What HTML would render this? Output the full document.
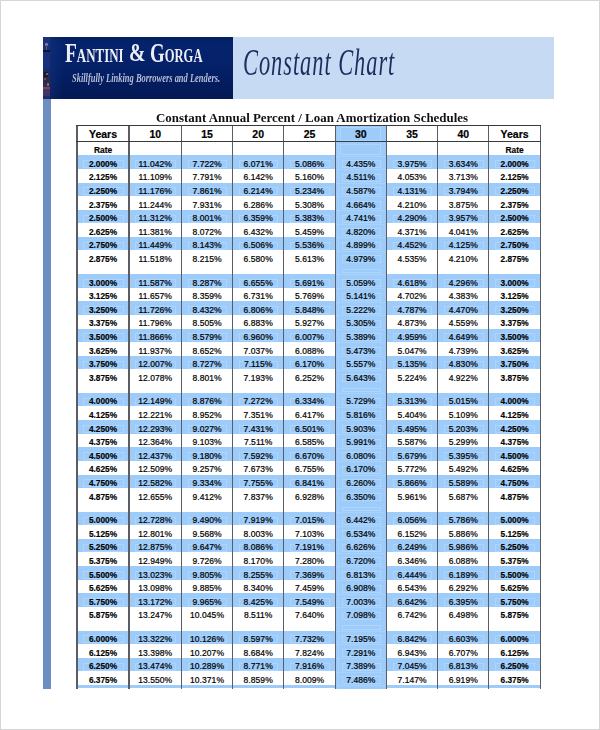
<!DOCTYPE html>
<html><head><meta charset="utf-8"><style>
html,body{margin:0;padding:0}
body{width:600px;height:730px;position:relative;overflow:hidden;background:#fff;font-family:"Liberation Sans",sans-serif}
div{position:absolute;box-sizing:border-box}
.frame{left:0;top:0;width:600px;height:730px;border:1px solid #d6d6d6}
.hd1{left:43px;top:37px;width:190px;height:62px;background:linear-gradient(180deg,#03205e 0%,#05236c 10%,#04216a 40%,#031d60 70%,#041853 100%)}
.hd2{left:232.5px;top:37px;width:321.5px;height:62px;background:#c6daf3}
.strip{left:43px;top:99px;width:7.8px;height:589.7px;background:#6b8fc1}
.pic{left:43px;top:37px;width:6.5px;height:62px;background:linear-gradient(180deg,#18337c 0%,#17307a 50%,#182a66 56%,#2a2a50 72%,#2e2c5a 80%,#2a2c62 90%,#1e2a6a 100%)}
.hd1b{left:49.5px;top:37px;width:14px;height:62px;background:linear-gradient(90deg,rgba(40,70,150,.25),rgba(40,70,150,0))}
.logo{top:39.5px;transform-origin:0 0;color:#eeeef5;font-weight:bold;font-family:"Liberation Serif",serif;white-space:nowrap;line-height:1}
.tag{left:72px;top:73.3px;transform:scaleX(0.735);transform-origin:0 0;color:#b6bcd6;font-family:"Liberation Serif",serif;font-style:italic;font-weight:bold;white-space:nowrap;line-height:1}
.cc{left:243.3px;top:44px;transform:scaleX(0.605);letter-spacing:1.6px;transform-origin:0 0;color:#1e2b5e;font-family:"Liberation Serif",serif;font-style:italic;white-space:nowrap;line-height:1}
.title{left:155.5px;top:110.6px;transform:scaleX(0.965);transform-origin:0 0;font-family:"Liberation Serif",serif;font-weight:bold;font-size:13.4px;white-space:nowrap;line-height:1;color:#111}
.b{background:#9dcbfa}
.in{border:1px solid #b4d8fb;opacity:.75}
.in2{background:#b4d8fb;opacity:.5}
.vl{background:#5a5e64}
.hl{background:#3a3a3a}
.t{text-align:center;white-space:nowrap;color:#000;line-height:1}
.hd{font-weight:bold;font-size:10.5px;padding-top:4px;-webkit-text-stroke:0.2px #000}
.rt{font-weight:bold;font-size:8.4px;padding-top:4.9px;-webkit-text-stroke:0.15px #000}
.rb{font-weight:bold;font-size:8.3px;padding-top:4.5px;-webkit-text-stroke:0.15px #000}
.rd{font-size:8.5px;letter-spacing:0.06px;padding-top:4.5px;-webkit-text-stroke:0.2px #000}
.clip{left:0;top:0;width:600px;height:688.5px;overflow:hidden}
</style></head><body>
<div class="hd1"></div>
<div class="pic"></div>
<div style="left:43px;top:37px;width:6.5px;height:62px;filter:blur(0.6px);overflow:visible">
<div style="left:2px;top:6px;width:2.5px;height:2.5px;border-radius:50%;background:#b07080"></div>
<div style="left:2.8px;top:8px;width:1px;height:5px;background:#4a5a90"></div>
<div style="left:0;top:12.5px;width:6.5px;height:2px;background:#101528"></div>
<div style="left:0.5px;top:35px;width:4px;height:5px;background:#1a1530"></div>
<div style="left:3px;top:36px;width:2px;height:2px;background:#906040"></div>
<div style="left:1px;top:41px;width:2px;height:2px;background:#705040"></div>
<div style="left:3.5px;top:46px;width:2.5px;height:2.5px;border-radius:50%;background:#b07830"></div>
<div style="left:0;top:50px;width:6.5px;height:9px;background:#4a3a6a;opacity:.7"></div>
<div style="left:0;top:50px;width:6.5px;height:1.5px;background:#8a4a60;opacity:.8"></div>
</div>
<div class="hd1b"></div>
<div class="hd2"></div>
<div class="strip"></div>
<div class="logo" style="left:65.3px;transform:scaleX(0.719)"><span style="font-size:27px">F</span><span style="font-size:18px">ANTINI</span></div>
<div class="logo" style="left:129px;transform:scaleX(0.76)"><span style="font-size:26px">&amp;</span></div>
<div class="logo" style="left:149.5px;transform:scaleX(0.70)"><span style="font-size:27px">G</span><span style="font-size:18px">ORGA</span></div>
<div class="tag" style="font-size:11.5px">Skillfully Linking Borrowers and Lenders.</div>
<div class="cc" style="font-size:37px">Constant Chart</div>
<div class="title">Constant Annual Percent / Loan Amortization Schedules</div>
<div class="clip">
<div class="b" style="left:335.3px;top:125px;width:51.099999999999966px;height:563.5px"></div>
<div class="b" style="left:77px;top:155.30px;width:463.4px;height:13.60px"></div>
<div class="b" style="left:77px;top:182.50px;width:463.4px;height:13.60px"></div>
<div class="b" style="left:77px;top:209.70px;width:463.4px;height:13.60px"></div>
<div class="b" style="left:77px;top:236.90px;width:463.4px;height:13.60px"></div>
<div class="b" style="left:77px;top:274.10px;width:463.4px;height:13.60px"></div>
<div class="b" style="left:77px;top:301.30px;width:463.4px;height:13.60px"></div>
<div class="b" style="left:77px;top:328.50px;width:463.4px;height:13.60px"></div>
<div class="b" style="left:77px;top:355.70px;width:463.4px;height:13.60px"></div>
<div class="b" style="left:77px;top:392.90px;width:463.4px;height:13.60px"></div>
<div class="b" style="left:77px;top:420.10px;width:463.4px;height:13.60px"></div>
<div class="b" style="left:77px;top:447.30px;width:463.4px;height:13.60px"></div>
<div class="b" style="left:77px;top:474.50px;width:463.4px;height:13.60px"></div>
<div class="b" style="left:77px;top:511.70px;width:463.4px;height:13.60px"></div>
<div class="b" style="left:77px;top:538.90px;width:463.4px;height:13.60px"></div>
<div class="b" style="left:77px;top:566.10px;width:463.4px;height:13.60px"></div>
<div class="b" style="left:77px;top:593.30px;width:463.4px;height:13.60px"></div>
<div class="b" style="left:77px;top:630.50px;width:463.4px;height:13.60px"></div>
<div class="b" style="left:77px;top:657.70px;width:463.4px;height:13.60px"></div>
<div class="b" style="left:77px;top:684.90px;width:463.4px;height:3.60px"></div>
<div class="in" style="left:340.30px;top:127.20px;width:40.60px;height:13.50px"></div>
<div class="in" style="left:340.30px;top:144.00px;width:40.60px;height:11.30px"></div>
<div class="in" style="left:83.30px;top:160.10px;width:40.40px;height:8.00px"></div>
<div class="in" style="left:135.30px;top:160.10px;width:40.90px;height:8.00px"></div>
<div class="in" style="left:187.80px;top:160.10px;width:39.50px;height:8.00px"></div>
<div class="in" style="left:238.90px;top:160.10px;width:39.60px;height:8.00px"></div>
<div class="in" style="left:290.10px;top:160.10px;width:39.90px;height:8.00px"></div>
<div class="in" style="left:341.60px;top:160.10px;width:39.50px;height:8.00px"></div>
<div class="in" style="left:392.70px;top:160.10px;width:39.70px;height:8.00px"></div>
<div class="in" style="left:444.00px;top:160.10px;width:39.50px;height:8.00px"></div>
<div class="in" style="left:495.10px;top:160.10px;width:40.00px;height:8.00px"></div>
<div class="in" style="left:341.60px;top:173.70px;width:39.50px;height:8.00px"></div>
<div class="in" style="left:83.30px;top:187.30px;width:40.40px;height:8.00px"></div>
<div class="in" style="left:135.30px;top:187.30px;width:40.90px;height:8.00px"></div>
<div class="in" style="left:187.80px;top:187.30px;width:39.50px;height:8.00px"></div>
<div class="in" style="left:238.90px;top:187.30px;width:39.60px;height:8.00px"></div>
<div class="in" style="left:290.10px;top:187.30px;width:39.90px;height:8.00px"></div>
<div class="in" style="left:341.60px;top:187.30px;width:39.50px;height:8.00px"></div>
<div class="in" style="left:392.70px;top:187.30px;width:39.70px;height:8.00px"></div>
<div class="in" style="left:444.00px;top:187.30px;width:39.50px;height:8.00px"></div>
<div class="in" style="left:495.10px;top:187.30px;width:40.00px;height:8.00px"></div>
<div class="in" style="left:341.60px;top:200.90px;width:39.50px;height:8.00px"></div>
<div class="in" style="left:83.30px;top:214.50px;width:40.40px;height:8.00px"></div>
<div class="in" style="left:135.30px;top:214.50px;width:40.90px;height:8.00px"></div>
<div class="in" style="left:187.80px;top:214.50px;width:39.50px;height:8.00px"></div>
<div class="in" style="left:238.90px;top:214.50px;width:39.60px;height:8.00px"></div>
<div class="in" style="left:290.10px;top:214.50px;width:39.90px;height:8.00px"></div>
<div class="in" style="left:341.60px;top:214.50px;width:39.50px;height:8.00px"></div>
<div class="in" style="left:392.70px;top:214.50px;width:39.70px;height:8.00px"></div>
<div class="in" style="left:444.00px;top:214.50px;width:39.50px;height:8.00px"></div>
<div class="in" style="left:495.10px;top:214.50px;width:40.00px;height:8.00px"></div>
<div class="in" style="left:341.60px;top:228.10px;width:39.50px;height:8.00px"></div>
<div class="in" style="left:83.30px;top:241.70px;width:40.40px;height:8.00px"></div>
<div class="in" style="left:135.30px;top:241.70px;width:40.90px;height:8.00px"></div>
<div class="in" style="left:187.80px;top:241.70px;width:39.50px;height:8.00px"></div>
<div class="in" style="left:238.90px;top:241.70px;width:39.60px;height:8.00px"></div>
<div class="in" style="left:290.10px;top:241.70px;width:39.90px;height:8.00px"></div>
<div class="in" style="left:341.60px;top:241.70px;width:39.50px;height:8.00px"></div>
<div class="in" style="left:392.70px;top:241.70px;width:39.70px;height:8.00px"></div>
<div class="in" style="left:444.00px;top:241.70px;width:39.50px;height:8.00px"></div>
<div class="in" style="left:495.10px;top:241.70px;width:40.00px;height:8.00px"></div>
<div class="in" style="left:341.60px;top:255.30px;width:39.50px;height:8.00px"></div>
<div class="in" style="left:83.30px;top:278.90px;width:40.40px;height:8.00px"></div>
<div class="in" style="left:135.30px;top:278.90px;width:40.90px;height:8.00px"></div>
<div class="in" style="left:187.80px;top:278.90px;width:39.50px;height:8.00px"></div>
<div class="in" style="left:238.90px;top:278.90px;width:39.60px;height:8.00px"></div>
<div class="in" style="left:290.10px;top:278.90px;width:39.90px;height:8.00px"></div>
<div class="in" style="left:341.60px;top:278.90px;width:39.50px;height:8.00px"></div>
<div class="in" style="left:392.70px;top:278.90px;width:39.70px;height:8.00px"></div>
<div class="in" style="left:444.00px;top:278.90px;width:39.50px;height:8.00px"></div>
<div class="in" style="left:495.10px;top:278.90px;width:40.00px;height:8.00px"></div>
<div class="in" style="left:341.60px;top:268.90px;width:39.50px;height:4.40px"></div>
<div class="in" style="left:341.60px;top:292.50px;width:39.50px;height:8.00px"></div>
<div class="in" style="left:83.30px;top:306.10px;width:40.40px;height:8.00px"></div>
<div class="in" style="left:135.30px;top:306.10px;width:40.90px;height:8.00px"></div>
<div class="in" style="left:187.80px;top:306.10px;width:39.50px;height:8.00px"></div>
<div class="in" style="left:238.90px;top:306.10px;width:39.60px;height:8.00px"></div>
<div class="in" style="left:290.10px;top:306.10px;width:39.90px;height:8.00px"></div>
<div class="in" style="left:341.60px;top:306.10px;width:39.50px;height:8.00px"></div>
<div class="in" style="left:392.70px;top:306.10px;width:39.70px;height:8.00px"></div>
<div class="in" style="left:444.00px;top:306.10px;width:39.50px;height:8.00px"></div>
<div class="in" style="left:495.10px;top:306.10px;width:40.00px;height:8.00px"></div>
<div class="in" style="left:341.60px;top:319.70px;width:39.50px;height:8.00px"></div>
<div class="in" style="left:83.30px;top:333.30px;width:40.40px;height:8.00px"></div>
<div class="in" style="left:135.30px;top:333.30px;width:40.90px;height:8.00px"></div>
<div class="in" style="left:187.80px;top:333.30px;width:39.50px;height:8.00px"></div>
<div class="in" style="left:238.90px;top:333.30px;width:39.60px;height:8.00px"></div>
<div class="in" style="left:290.10px;top:333.30px;width:39.90px;height:8.00px"></div>
<div class="in" style="left:341.60px;top:333.30px;width:39.50px;height:8.00px"></div>
<div class="in" style="left:392.70px;top:333.30px;width:39.70px;height:8.00px"></div>
<div class="in" style="left:444.00px;top:333.30px;width:39.50px;height:8.00px"></div>
<div class="in" style="left:495.10px;top:333.30px;width:40.00px;height:8.00px"></div>
<div class="in" style="left:341.60px;top:346.90px;width:39.50px;height:8.00px"></div>
<div class="in" style="left:83.30px;top:360.50px;width:40.40px;height:8.00px"></div>
<div class="in" style="left:135.30px;top:360.50px;width:40.90px;height:8.00px"></div>
<div class="in" style="left:187.80px;top:360.50px;width:39.50px;height:8.00px"></div>
<div class="in" style="left:238.90px;top:360.50px;width:39.60px;height:8.00px"></div>
<div class="in" style="left:290.10px;top:360.50px;width:39.90px;height:8.00px"></div>
<div class="in" style="left:341.60px;top:360.50px;width:39.50px;height:8.00px"></div>
<div class="in" style="left:392.70px;top:360.50px;width:39.70px;height:8.00px"></div>
<div class="in" style="left:444.00px;top:360.50px;width:39.50px;height:8.00px"></div>
<div class="in" style="left:495.10px;top:360.50px;width:40.00px;height:8.00px"></div>
<div class="in" style="left:341.60px;top:374.10px;width:39.50px;height:8.00px"></div>
<div class="in" style="left:83.30px;top:397.70px;width:40.40px;height:8.00px"></div>
<div class="in" style="left:135.30px;top:397.70px;width:40.90px;height:8.00px"></div>
<div class="in" style="left:187.80px;top:397.70px;width:39.50px;height:8.00px"></div>
<div class="in" style="left:238.90px;top:397.70px;width:39.60px;height:8.00px"></div>
<div class="in" style="left:290.10px;top:397.70px;width:39.90px;height:8.00px"></div>
<div class="in" style="left:341.60px;top:397.70px;width:39.50px;height:8.00px"></div>
<div class="in" style="left:392.70px;top:397.70px;width:39.70px;height:8.00px"></div>
<div class="in" style="left:444.00px;top:397.70px;width:39.50px;height:8.00px"></div>
<div class="in" style="left:495.10px;top:397.70px;width:40.00px;height:8.00px"></div>
<div class="in" style="left:341.60px;top:387.70px;width:39.50px;height:4.40px"></div>
<div class="in" style="left:341.60px;top:411.30px;width:39.50px;height:8.00px"></div>
<div class="in" style="left:83.30px;top:424.90px;width:40.40px;height:8.00px"></div>
<div class="in" style="left:135.30px;top:424.90px;width:40.90px;height:8.00px"></div>
<div class="in" style="left:187.80px;top:424.90px;width:39.50px;height:8.00px"></div>
<div class="in" style="left:238.90px;top:424.90px;width:39.60px;height:8.00px"></div>
<div class="in" style="left:290.10px;top:424.90px;width:39.90px;height:8.00px"></div>
<div class="in" style="left:341.60px;top:424.90px;width:39.50px;height:8.00px"></div>
<div class="in" style="left:392.70px;top:424.90px;width:39.70px;height:8.00px"></div>
<div class="in" style="left:444.00px;top:424.90px;width:39.50px;height:8.00px"></div>
<div class="in" style="left:495.10px;top:424.90px;width:40.00px;height:8.00px"></div>
<div class="in" style="left:341.60px;top:438.50px;width:39.50px;height:8.00px"></div>
<div class="in" style="left:83.30px;top:452.10px;width:40.40px;height:8.00px"></div>
<div class="in" style="left:135.30px;top:452.10px;width:40.90px;height:8.00px"></div>
<div class="in" style="left:187.80px;top:452.10px;width:39.50px;height:8.00px"></div>
<div class="in" style="left:238.90px;top:452.10px;width:39.60px;height:8.00px"></div>
<div class="in" style="left:290.10px;top:452.10px;width:39.90px;height:8.00px"></div>
<div class="in" style="left:341.60px;top:452.10px;width:39.50px;height:8.00px"></div>
<div class="in" style="left:392.70px;top:452.10px;width:39.70px;height:8.00px"></div>
<div class="in" style="left:444.00px;top:452.10px;width:39.50px;height:8.00px"></div>
<div class="in" style="left:495.10px;top:452.10px;width:40.00px;height:8.00px"></div>
<div class="in" style="left:341.60px;top:465.70px;width:39.50px;height:8.00px"></div>
<div class="in" style="left:83.30px;top:479.30px;width:40.40px;height:8.00px"></div>
<div class="in" style="left:135.30px;top:479.30px;width:40.90px;height:8.00px"></div>
<div class="in" style="left:187.80px;top:479.30px;width:39.50px;height:8.00px"></div>
<div class="in" style="left:238.90px;top:479.30px;width:39.60px;height:8.00px"></div>
<div class="in" style="left:290.10px;top:479.30px;width:39.90px;height:8.00px"></div>
<div class="in" style="left:341.60px;top:479.30px;width:39.50px;height:8.00px"></div>
<div class="in" style="left:392.70px;top:479.30px;width:39.70px;height:8.00px"></div>
<div class="in" style="left:444.00px;top:479.30px;width:39.50px;height:8.00px"></div>
<div class="in" style="left:495.10px;top:479.30px;width:40.00px;height:8.00px"></div>
<div class="in" style="left:341.60px;top:492.90px;width:39.50px;height:8.00px"></div>
<div class="in" style="left:83.30px;top:516.50px;width:40.40px;height:8.00px"></div>
<div class="in" style="left:135.30px;top:516.50px;width:40.90px;height:8.00px"></div>
<div class="in" style="left:187.80px;top:516.50px;width:39.50px;height:8.00px"></div>
<div class="in" style="left:238.90px;top:516.50px;width:39.60px;height:8.00px"></div>
<div class="in" style="left:290.10px;top:516.50px;width:39.90px;height:8.00px"></div>
<div class="in" style="left:341.60px;top:516.50px;width:39.50px;height:8.00px"></div>
<div class="in" style="left:392.70px;top:516.50px;width:39.70px;height:8.00px"></div>
<div class="in" style="left:444.00px;top:516.50px;width:39.50px;height:8.00px"></div>
<div class="in" style="left:495.10px;top:516.50px;width:40.00px;height:8.00px"></div>
<div class="in" style="left:341.60px;top:506.50px;width:39.50px;height:4.40px"></div>
<div class="in" style="left:341.60px;top:530.10px;width:39.50px;height:8.00px"></div>
<div class="in" style="left:83.30px;top:543.70px;width:40.40px;height:8.00px"></div>
<div class="in" style="left:135.30px;top:543.70px;width:40.90px;height:8.00px"></div>
<div class="in" style="left:187.80px;top:543.70px;width:39.50px;height:8.00px"></div>
<div class="in" style="left:238.90px;top:543.70px;width:39.60px;height:8.00px"></div>
<div class="in" style="left:290.10px;top:543.70px;width:39.90px;height:8.00px"></div>
<div class="in" style="left:341.60px;top:543.70px;width:39.50px;height:8.00px"></div>
<div class="in" style="left:392.70px;top:543.70px;width:39.70px;height:8.00px"></div>
<div class="in" style="left:444.00px;top:543.70px;width:39.50px;height:8.00px"></div>
<div class="in" style="left:495.10px;top:543.70px;width:40.00px;height:8.00px"></div>
<div class="in" style="left:341.60px;top:557.30px;width:39.50px;height:8.00px"></div>
<div class="in" style="left:83.30px;top:570.90px;width:40.40px;height:8.00px"></div>
<div class="in" style="left:135.30px;top:570.90px;width:40.90px;height:8.00px"></div>
<div class="in" style="left:187.80px;top:570.90px;width:39.50px;height:8.00px"></div>
<div class="in" style="left:238.90px;top:570.90px;width:39.60px;height:8.00px"></div>
<div class="in" style="left:290.10px;top:570.90px;width:39.90px;height:8.00px"></div>
<div class="in" style="left:341.60px;top:570.90px;width:39.50px;height:8.00px"></div>
<div class="in" style="left:392.70px;top:570.90px;width:39.70px;height:8.00px"></div>
<div class="in" style="left:444.00px;top:570.90px;width:39.50px;height:8.00px"></div>
<div class="in" style="left:495.10px;top:570.90px;width:40.00px;height:8.00px"></div>
<div class="in" style="left:341.60px;top:584.50px;width:39.50px;height:8.00px"></div>
<div class="in" style="left:83.30px;top:598.10px;width:40.40px;height:8.00px"></div>
<div class="in" style="left:135.30px;top:598.10px;width:40.90px;height:8.00px"></div>
<div class="in" style="left:187.80px;top:598.10px;width:39.50px;height:8.00px"></div>
<div class="in" style="left:238.90px;top:598.10px;width:39.60px;height:8.00px"></div>
<div class="in" style="left:290.10px;top:598.10px;width:39.90px;height:8.00px"></div>
<div class="in" style="left:341.60px;top:598.10px;width:39.50px;height:8.00px"></div>
<div class="in" style="left:392.70px;top:598.10px;width:39.70px;height:8.00px"></div>
<div class="in" style="left:444.00px;top:598.10px;width:39.50px;height:8.00px"></div>
<div class="in" style="left:495.10px;top:598.10px;width:40.00px;height:8.00px"></div>
<div class="in" style="left:341.60px;top:611.70px;width:39.50px;height:8.00px"></div>
<div class="in" style="left:83.30px;top:635.30px;width:40.40px;height:8.00px"></div>
<div class="in" style="left:135.30px;top:635.30px;width:40.90px;height:8.00px"></div>
<div class="in" style="left:187.80px;top:635.30px;width:39.50px;height:8.00px"></div>
<div class="in" style="left:238.90px;top:635.30px;width:39.60px;height:8.00px"></div>
<div class="in" style="left:290.10px;top:635.30px;width:39.90px;height:8.00px"></div>
<div class="in" style="left:341.60px;top:635.30px;width:39.50px;height:8.00px"></div>
<div class="in" style="left:392.70px;top:635.30px;width:39.70px;height:8.00px"></div>
<div class="in" style="left:444.00px;top:635.30px;width:39.50px;height:8.00px"></div>
<div class="in" style="left:495.10px;top:635.30px;width:40.00px;height:8.00px"></div>
<div class="in" style="left:341.60px;top:625.30px;width:39.50px;height:4.40px"></div>
<div class="in" style="left:341.60px;top:648.90px;width:39.50px;height:8.00px"></div>
<div class="in" style="left:83.30px;top:662.50px;width:40.40px;height:8.00px"></div>
<div class="in" style="left:135.30px;top:662.50px;width:40.90px;height:8.00px"></div>
<div class="in" style="left:187.80px;top:662.50px;width:39.50px;height:8.00px"></div>
<div class="in" style="left:238.90px;top:662.50px;width:39.60px;height:8.00px"></div>
<div class="in" style="left:290.10px;top:662.50px;width:39.90px;height:8.00px"></div>
<div class="in" style="left:341.60px;top:662.50px;width:39.50px;height:8.00px"></div>
<div class="in" style="left:392.70px;top:662.50px;width:39.70px;height:8.00px"></div>
<div class="in" style="left:444.00px;top:662.50px;width:39.50px;height:8.00px"></div>
<div class="in" style="left:495.10px;top:662.50px;width:40.00px;height:8.00px"></div>
<div class="in" style="left:341.60px;top:676.10px;width:39.50px;height:8.00px"></div>
<div class="in" style="left:83.30px;top:689.70px;width:40.40px;height:8.00px"></div>
<div class="in" style="left:135.30px;top:689.70px;width:40.90px;height:8.00px"></div>
<div class="in" style="left:187.80px;top:689.70px;width:39.50px;height:8.00px"></div>
<div class="in" style="left:238.90px;top:689.70px;width:39.60px;height:8.00px"></div>
<div class="in" style="left:290.10px;top:689.70px;width:39.90px;height:8.00px"></div>
<div class="in" style="left:341.60px;top:689.70px;width:39.50px;height:8.00px"></div>
<div class="in" style="left:392.70px;top:689.70px;width:39.70px;height:8.00px"></div>
<div class="in" style="left:444.00px;top:689.70px;width:39.50px;height:8.00px"></div>
<div class="in" style="left:495.10px;top:689.70px;width:40.00px;height:8.00px"></div>
<div class="in2" style="left:336.30px;top:155.50px;width:49.10px;height:1px"></div>
<div class="in2" style="left:336.30px;top:169.10px;width:49.10px;height:1px"></div>
<div class="in2" style="left:336.30px;top:182.70px;width:49.10px;height:1px"></div>
<div class="in2" style="left:336.30px;top:196.30px;width:49.10px;height:1px"></div>
<div class="in2" style="left:336.30px;top:209.90px;width:49.10px;height:1px"></div>
<div class="in2" style="left:336.30px;top:223.50px;width:49.10px;height:1px"></div>
<div class="in2" style="left:336.30px;top:237.10px;width:49.10px;height:1px"></div>
<div class="in2" style="left:336.30px;top:250.70px;width:49.10px;height:1px"></div>
<div class="in2" style="left:336.30px;top:274.30px;width:49.10px;height:1px"></div>
<div class="in2" style="left:336.30px;top:287.90px;width:49.10px;height:1px"></div>
<div class="in2" style="left:336.30px;top:301.50px;width:49.10px;height:1px"></div>
<div class="in2" style="left:336.30px;top:315.10px;width:49.10px;height:1px"></div>
<div class="in2" style="left:336.30px;top:328.70px;width:49.10px;height:1px"></div>
<div class="in2" style="left:336.30px;top:342.30px;width:49.10px;height:1px"></div>
<div class="in2" style="left:336.30px;top:355.90px;width:49.10px;height:1px"></div>
<div class="in2" style="left:336.30px;top:369.50px;width:49.10px;height:1px"></div>
<div class="in2" style="left:336.30px;top:393.10px;width:49.10px;height:1px"></div>
<div class="in2" style="left:336.30px;top:406.70px;width:49.10px;height:1px"></div>
<div class="in2" style="left:336.30px;top:420.30px;width:49.10px;height:1px"></div>
<div class="in2" style="left:336.30px;top:433.90px;width:49.10px;height:1px"></div>
<div class="in2" style="left:336.30px;top:447.50px;width:49.10px;height:1px"></div>
<div class="in2" style="left:336.30px;top:461.10px;width:49.10px;height:1px"></div>
<div class="in2" style="left:336.30px;top:474.70px;width:49.10px;height:1px"></div>
<div class="in2" style="left:336.30px;top:488.30px;width:49.10px;height:1px"></div>
<div class="in2" style="left:336.30px;top:511.90px;width:49.10px;height:1px"></div>
<div class="in2" style="left:336.30px;top:525.50px;width:49.10px;height:1px"></div>
<div class="in2" style="left:336.30px;top:539.10px;width:49.10px;height:1px"></div>
<div class="in2" style="left:336.30px;top:552.70px;width:49.10px;height:1px"></div>
<div class="in2" style="left:336.30px;top:566.30px;width:49.10px;height:1px"></div>
<div class="in2" style="left:336.30px;top:579.90px;width:49.10px;height:1px"></div>
<div class="in2" style="left:336.30px;top:593.50px;width:49.10px;height:1px"></div>
<div class="in2" style="left:336.30px;top:607.10px;width:49.10px;height:1px"></div>
<div class="in2" style="left:336.30px;top:630.70px;width:49.10px;height:1px"></div>
<div class="in2" style="left:336.30px;top:644.30px;width:49.10px;height:1px"></div>
<div class="in2" style="left:336.30px;top:657.90px;width:49.10px;height:1px"></div>
<div class="in2" style="left:336.30px;top:671.50px;width:49.10px;height:1px"></div>
<div class="in2" style="left:336.30px;top:685.10px;width:49.10px;height:1px"></div>
<div class="in2" style="left:337.50px;top:125px;width:1px;height:563.5px"></div>
<div class="vl" style="left:76.35px;top:125px;width:1.3px;height:563.5px"></div>
<div class="vl" style="left:128.35px;top:125px;width:1.3px;height:563.5px"></div>
<div class="vl" style="left:180.85px;top:125px;width:1.3px;height:563.5px"></div>
<div class="vl" style="left:231.95px;top:125px;width:1.3px;height:563.5px"></div>
<div class="vl" style="left:283.15px;top:125px;width:1.3px;height:563.5px"></div>
<div class="vl" style="left:334.65px;top:125px;width:1.3px;height:563.5px"></div>
<div class="vl" style="left:385.75px;top:125px;width:1.3px;height:563.5px"></div>
<div class="vl" style="left:437.05px;top:125px;width:1.3px;height:563.5px"></div>
<div class="vl" style="left:488.15px;top:125px;width:1.3px;height:563.5px"></div>
<div class="vl" style="left:539.75px;top:125px;width:1.3px;height:563.5px"></div>
<div class="hl" style="left:76.4px;top:125px;width:464.60px;height:1.1px"></div>
<div class="hl" style="left:76.4px;top:140.5px;width:464.60px;height:1.1px"></div>
<div class="t hd" style="left:77.00px;top:125.00px;width:52.00px;height:16.00px">Years</div>
<div class="t hd" style="left:129.00px;top:125.00px;width:52.50px;height:16.00px">10</div>
<div class="t hd" style="left:181.50px;top:125.00px;width:51.10px;height:16.00px">15</div>
<div class="t hd" style="left:232.60px;top:125.00px;width:51.20px;height:16.00px">20</div>
<div class="t hd" style="left:283.80px;top:125.00px;width:51.50px;height:16.00px">25</div>
<div class="t hd" style="left:335.30px;top:125.00px;width:51.10px;height:16.00px">30</div>
<div class="t hd" style="left:386.40px;top:125.00px;width:51.30px;height:16.00px">35</div>
<div class="t hd" style="left:437.70px;top:125.00px;width:51.10px;height:16.00px">40</div>
<div class="t hd" style="left:488.80px;top:125.00px;width:51.60px;height:16.00px">Years</div>
<div class="t rt" style="left:77.00px;top:141.00px;width:52.00px;height:14.30px">Rate</div>
<div class="t rt" style="left:488.80px;top:141.00px;width:51.60px;height:14.30px">Rate</div>
<div class="t rb" style="left:77.00px;top:155.30px;width:52.00px;height:13.60px">2.000%</div>
<div class="t rd" style="left:129.00px;top:155.30px;width:52.50px;height:13.60px">11.042%</div>
<div class="t rd" style="left:181.50px;top:155.30px;width:51.10px;height:13.60px">7.722%</div>
<div class="t rd" style="left:232.60px;top:155.30px;width:51.20px;height:13.60px">6.071%</div>
<div class="t rd" style="left:283.80px;top:155.30px;width:51.50px;height:13.60px">5.086%</div>
<div class="t rd" style="left:335.30px;top:155.30px;width:51.10px;height:13.60px">4.435%</div>
<div class="t rd" style="left:386.40px;top:155.30px;width:51.30px;height:13.60px">3.975%</div>
<div class="t rd" style="left:437.70px;top:155.30px;width:51.10px;height:13.60px">3.634%</div>
<div class="t rb" style="left:488.80px;top:155.30px;width:51.60px;height:13.60px">2.000%</div>
<div class="t rb" style="left:77.00px;top:168.90px;width:52.00px;height:13.60px">2.125%</div>
<div class="t rd" style="left:129.00px;top:168.90px;width:52.50px;height:13.60px">11.109%</div>
<div class="t rd" style="left:181.50px;top:168.90px;width:51.10px;height:13.60px">7.791%</div>
<div class="t rd" style="left:232.60px;top:168.90px;width:51.20px;height:13.60px">6.142%</div>
<div class="t rd" style="left:283.80px;top:168.90px;width:51.50px;height:13.60px">5.160%</div>
<div class="t rd" style="left:335.30px;top:168.90px;width:51.10px;height:13.60px">4.511%</div>
<div class="t rd" style="left:386.40px;top:168.90px;width:51.30px;height:13.60px">4.053%</div>
<div class="t rd" style="left:437.70px;top:168.90px;width:51.10px;height:13.60px">3.713%</div>
<div class="t rb" style="left:488.80px;top:168.90px;width:51.60px;height:13.60px">2.125%</div>
<div class="t rb" style="left:77.00px;top:182.50px;width:52.00px;height:13.60px">2.250%</div>
<div class="t rd" style="left:129.00px;top:182.50px;width:52.50px;height:13.60px">11.176%</div>
<div class="t rd" style="left:181.50px;top:182.50px;width:51.10px;height:13.60px">7.861%</div>
<div class="t rd" style="left:232.60px;top:182.50px;width:51.20px;height:13.60px">6.214%</div>
<div class="t rd" style="left:283.80px;top:182.50px;width:51.50px;height:13.60px">5.234%</div>
<div class="t rd" style="left:335.30px;top:182.50px;width:51.10px;height:13.60px">4.587%</div>
<div class="t rd" style="left:386.40px;top:182.50px;width:51.30px;height:13.60px">4.131%</div>
<div class="t rd" style="left:437.70px;top:182.50px;width:51.10px;height:13.60px">3.794%</div>
<div class="t rb" style="left:488.80px;top:182.50px;width:51.60px;height:13.60px">2.250%</div>
<div class="t rb" style="left:77.00px;top:196.10px;width:52.00px;height:13.60px">2.375%</div>
<div class="t rd" style="left:129.00px;top:196.10px;width:52.50px;height:13.60px">11.244%</div>
<div class="t rd" style="left:181.50px;top:196.10px;width:51.10px;height:13.60px">7.931%</div>
<div class="t rd" style="left:232.60px;top:196.10px;width:51.20px;height:13.60px">6.286%</div>
<div class="t rd" style="left:283.80px;top:196.10px;width:51.50px;height:13.60px">5.308%</div>
<div class="t rd" style="left:335.30px;top:196.10px;width:51.10px;height:13.60px">4.664%</div>
<div class="t rd" style="left:386.40px;top:196.10px;width:51.30px;height:13.60px">4.210%</div>
<div class="t rd" style="left:437.70px;top:196.10px;width:51.10px;height:13.60px">3.875%</div>
<div class="t rb" style="left:488.80px;top:196.10px;width:51.60px;height:13.60px">2.375%</div>
<div class="t rb" style="left:77.00px;top:209.70px;width:52.00px;height:13.60px">2.500%</div>
<div class="t rd" style="left:129.00px;top:209.70px;width:52.50px;height:13.60px">11.312%</div>
<div class="t rd" style="left:181.50px;top:209.70px;width:51.10px;height:13.60px">8.001%</div>
<div class="t rd" style="left:232.60px;top:209.70px;width:51.20px;height:13.60px">6.359%</div>
<div class="t rd" style="left:283.80px;top:209.70px;width:51.50px;height:13.60px">5.383%</div>
<div class="t rd" style="left:335.30px;top:209.70px;width:51.10px;height:13.60px">4.741%</div>
<div class="t rd" style="left:386.40px;top:209.70px;width:51.30px;height:13.60px">4.290%</div>
<div class="t rd" style="left:437.70px;top:209.70px;width:51.10px;height:13.60px">3.957%</div>
<div class="t rb" style="left:488.80px;top:209.70px;width:51.60px;height:13.60px">2.500%</div>
<div class="t rb" style="left:77.00px;top:223.30px;width:52.00px;height:13.60px">2.625%</div>
<div class="t rd" style="left:129.00px;top:223.30px;width:52.50px;height:13.60px">11.381%</div>
<div class="t rd" style="left:181.50px;top:223.30px;width:51.10px;height:13.60px">8.072%</div>
<div class="t rd" style="left:232.60px;top:223.30px;width:51.20px;height:13.60px">6.432%</div>
<div class="t rd" style="left:283.80px;top:223.30px;width:51.50px;height:13.60px">5.459%</div>
<div class="t rd" style="left:335.30px;top:223.30px;width:51.10px;height:13.60px">4.820%</div>
<div class="t rd" style="left:386.40px;top:223.30px;width:51.30px;height:13.60px">4.371%</div>
<div class="t rd" style="left:437.70px;top:223.30px;width:51.10px;height:13.60px">4.041%</div>
<div class="t rb" style="left:488.80px;top:223.30px;width:51.60px;height:13.60px">2.625%</div>
<div class="t rb" style="left:77.00px;top:236.90px;width:52.00px;height:13.60px">2.750%</div>
<div class="t rd" style="left:129.00px;top:236.90px;width:52.50px;height:13.60px">11.449%</div>
<div class="t rd" style="left:181.50px;top:236.90px;width:51.10px;height:13.60px">8.143%</div>
<div class="t rd" style="left:232.60px;top:236.90px;width:51.20px;height:13.60px">6.506%</div>
<div class="t rd" style="left:283.80px;top:236.90px;width:51.50px;height:13.60px">5.536%</div>
<div class="t rd" style="left:335.30px;top:236.90px;width:51.10px;height:13.60px">4.899%</div>
<div class="t rd" style="left:386.40px;top:236.90px;width:51.30px;height:13.60px">4.452%</div>
<div class="t rd" style="left:437.70px;top:236.90px;width:51.10px;height:13.60px">4.125%</div>
<div class="t rb" style="left:488.80px;top:236.90px;width:51.60px;height:13.60px">2.750%</div>
<div class="t rb" style="left:77.00px;top:250.50px;width:52.00px;height:13.60px">2.875%</div>
<div class="t rd" style="left:129.00px;top:250.50px;width:52.50px;height:13.60px">11.518%</div>
<div class="t rd" style="left:181.50px;top:250.50px;width:51.10px;height:13.60px">8.215%</div>
<div class="t rd" style="left:232.60px;top:250.50px;width:51.20px;height:13.60px">6.580%</div>
<div class="t rd" style="left:283.80px;top:250.50px;width:51.50px;height:13.60px">5.613%</div>
<div class="t rd" style="left:335.30px;top:250.50px;width:51.10px;height:13.60px">4.979%</div>
<div class="t rd" style="left:386.40px;top:250.50px;width:51.30px;height:13.60px">4.535%</div>
<div class="t rd" style="left:437.70px;top:250.50px;width:51.10px;height:13.60px">4.210%</div>
<div class="t rb" style="left:488.80px;top:250.50px;width:51.60px;height:13.60px">2.875%</div>
<div class="t rb" style="left:77.00px;top:274.10px;width:52.00px;height:13.60px">3.000%</div>
<div class="t rd" style="left:129.00px;top:274.10px;width:52.50px;height:13.60px">11.587%</div>
<div class="t rd" style="left:181.50px;top:274.10px;width:51.10px;height:13.60px">8.287%</div>
<div class="t rd" style="left:232.60px;top:274.10px;width:51.20px;height:13.60px">6.655%</div>
<div class="t rd" style="left:283.80px;top:274.10px;width:51.50px;height:13.60px">5.691%</div>
<div class="t rd" style="left:335.30px;top:274.10px;width:51.10px;height:13.60px">5.059%</div>
<div class="t rd" style="left:386.40px;top:274.10px;width:51.30px;height:13.60px">4.618%</div>
<div class="t rd" style="left:437.70px;top:274.10px;width:51.10px;height:13.60px">4.296%</div>
<div class="t rb" style="left:488.80px;top:274.10px;width:51.60px;height:13.60px">3.000%</div>
<div class="t rb" style="left:77.00px;top:287.70px;width:52.00px;height:13.60px">3.125%</div>
<div class="t rd" style="left:129.00px;top:287.70px;width:52.50px;height:13.60px">11.657%</div>
<div class="t rd" style="left:181.50px;top:287.70px;width:51.10px;height:13.60px">8.359%</div>
<div class="t rd" style="left:232.60px;top:287.70px;width:51.20px;height:13.60px">6.731%</div>
<div class="t rd" style="left:283.80px;top:287.70px;width:51.50px;height:13.60px">5.769%</div>
<div class="t rd" style="left:335.30px;top:287.70px;width:51.10px;height:13.60px">5.141%</div>
<div class="t rd" style="left:386.40px;top:287.70px;width:51.30px;height:13.60px">4.702%</div>
<div class="t rd" style="left:437.70px;top:287.70px;width:51.10px;height:13.60px">4.383%</div>
<div class="t rb" style="left:488.80px;top:287.70px;width:51.60px;height:13.60px">3.125%</div>
<div class="t rb" style="left:77.00px;top:301.30px;width:52.00px;height:13.60px">3.250%</div>
<div class="t rd" style="left:129.00px;top:301.30px;width:52.50px;height:13.60px">11.726%</div>
<div class="t rd" style="left:181.50px;top:301.30px;width:51.10px;height:13.60px">8.432%</div>
<div class="t rd" style="left:232.60px;top:301.30px;width:51.20px;height:13.60px">6.806%</div>
<div class="t rd" style="left:283.80px;top:301.30px;width:51.50px;height:13.60px">5.848%</div>
<div class="t rd" style="left:335.30px;top:301.30px;width:51.10px;height:13.60px">5.222%</div>
<div class="t rd" style="left:386.40px;top:301.30px;width:51.30px;height:13.60px">4.787%</div>
<div class="t rd" style="left:437.70px;top:301.30px;width:51.10px;height:13.60px">4.470%</div>
<div class="t rb" style="left:488.80px;top:301.30px;width:51.60px;height:13.60px">3.250%</div>
<div class="t rb" style="left:77.00px;top:314.90px;width:52.00px;height:13.60px">3.375%</div>
<div class="t rd" style="left:129.00px;top:314.90px;width:52.50px;height:13.60px">11.796%</div>
<div class="t rd" style="left:181.50px;top:314.90px;width:51.10px;height:13.60px">8.505%</div>
<div class="t rd" style="left:232.60px;top:314.90px;width:51.20px;height:13.60px">6.883%</div>
<div class="t rd" style="left:283.80px;top:314.90px;width:51.50px;height:13.60px">5.927%</div>
<div class="t rd" style="left:335.30px;top:314.90px;width:51.10px;height:13.60px">5.305%</div>
<div class="t rd" style="left:386.40px;top:314.90px;width:51.30px;height:13.60px">4.873%</div>
<div class="t rd" style="left:437.70px;top:314.90px;width:51.10px;height:13.60px">4.559%</div>
<div class="t rb" style="left:488.80px;top:314.90px;width:51.60px;height:13.60px">3.375%</div>
<div class="t rb" style="left:77.00px;top:328.50px;width:52.00px;height:13.60px">3.500%</div>
<div class="t rd" style="left:129.00px;top:328.50px;width:52.50px;height:13.60px">11.866%</div>
<div class="t rd" style="left:181.50px;top:328.50px;width:51.10px;height:13.60px">8.579%</div>
<div class="t rd" style="left:232.60px;top:328.50px;width:51.20px;height:13.60px">6.960%</div>
<div class="t rd" style="left:283.80px;top:328.50px;width:51.50px;height:13.60px">6.007%</div>
<div class="t rd" style="left:335.30px;top:328.50px;width:51.10px;height:13.60px">5.389%</div>
<div class="t rd" style="left:386.40px;top:328.50px;width:51.30px;height:13.60px">4.959%</div>
<div class="t rd" style="left:437.70px;top:328.50px;width:51.10px;height:13.60px">4.649%</div>
<div class="t rb" style="left:488.80px;top:328.50px;width:51.60px;height:13.60px">3.500%</div>
<div class="t rb" style="left:77.00px;top:342.10px;width:52.00px;height:13.60px">3.625%</div>
<div class="t rd" style="left:129.00px;top:342.10px;width:52.50px;height:13.60px">11.937%</div>
<div class="t rd" style="left:181.50px;top:342.10px;width:51.10px;height:13.60px">8.652%</div>
<div class="t rd" style="left:232.60px;top:342.10px;width:51.20px;height:13.60px">7.037%</div>
<div class="t rd" style="left:283.80px;top:342.10px;width:51.50px;height:13.60px">6.088%</div>
<div class="t rd" style="left:335.30px;top:342.10px;width:51.10px;height:13.60px">5.473%</div>
<div class="t rd" style="left:386.40px;top:342.10px;width:51.30px;height:13.60px">5.047%</div>
<div class="t rd" style="left:437.70px;top:342.10px;width:51.10px;height:13.60px">4.739%</div>
<div class="t rb" style="left:488.80px;top:342.10px;width:51.60px;height:13.60px">3.625%</div>
<div class="t rb" style="left:77.00px;top:355.70px;width:52.00px;height:13.60px">3.750%</div>
<div class="t rd" style="left:129.00px;top:355.70px;width:52.50px;height:13.60px">12.007%</div>
<div class="t rd" style="left:181.50px;top:355.70px;width:51.10px;height:13.60px">8.727%</div>
<div class="t rd" style="left:232.60px;top:355.70px;width:51.20px;height:13.60px">7.115%</div>
<div class="t rd" style="left:283.80px;top:355.70px;width:51.50px;height:13.60px">6.170%</div>
<div class="t rd" style="left:335.30px;top:355.70px;width:51.10px;height:13.60px">5.557%</div>
<div class="t rd" style="left:386.40px;top:355.70px;width:51.30px;height:13.60px">5.135%</div>
<div class="t rd" style="left:437.70px;top:355.70px;width:51.10px;height:13.60px">4.830%</div>
<div class="t rb" style="left:488.80px;top:355.70px;width:51.60px;height:13.60px">3.750%</div>
<div class="t rb" style="left:77.00px;top:369.30px;width:52.00px;height:13.60px">3.875%</div>
<div class="t rd" style="left:129.00px;top:369.30px;width:52.50px;height:13.60px">12.078%</div>
<div class="t rd" style="left:181.50px;top:369.30px;width:51.10px;height:13.60px">8.801%</div>
<div class="t rd" style="left:232.60px;top:369.30px;width:51.20px;height:13.60px">7.193%</div>
<div class="t rd" style="left:283.80px;top:369.30px;width:51.50px;height:13.60px">6.252%</div>
<div class="t rd" style="left:335.30px;top:369.30px;width:51.10px;height:13.60px">5.643%</div>
<div class="t rd" style="left:386.40px;top:369.30px;width:51.30px;height:13.60px">5.224%</div>
<div class="t rd" style="left:437.70px;top:369.30px;width:51.10px;height:13.60px">4.922%</div>
<div class="t rb" style="left:488.80px;top:369.30px;width:51.60px;height:13.60px">3.875%</div>
<div class="t rb" style="left:77.00px;top:392.90px;width:52.00px;height:13.60px">4.000%</div>
<div class="t rd" style="left:129.00px;top:392.90px;width:52.50px;height:13.60px">12.149%</div>
<div class="t rd" style="left:181.50px;top:392.90px;width:51.10px;height:13.60px">8.876%</div>
<div class="t rd" style="left:232.60px;top:392.90px;width:51.20px;height:13.60px">7.272%</div>
<div class="t rd" style="left:283.80px;top:392.90px;width:51.50px;height:13.60px">6.334%</div>
<div class="t rd" style="left:335.30px;top:392.90px;width:51.10px;height:13.60px">5.729%</div>
<div class="t rd" style="left:386.40px;top:392.90px;width:51.30px;height:13.60px">5.313%</div>
<div class="t rd" style="left:437.70px;top:392.90px;width:51.10px;height:13.60px">5.015%</div>
<div class="t rb" style="left:488.80px;top:392.90px;width:51.60px;height:13.60px">4.000%</div>
<div class="t rb" style="left:77.00px;top:406.50px;width:52.00px;height:13.60px">4.125%</div>
<div class="t rd" style="left:129.00px;top:406.50px;width:52.50px;height:13.60px">12.221%</div>
<div class="t rd" style="left:181.50px;top:406.50px;width:51.10px;height:13.60px">8.952%</div>
<div class="t rd" style="left:232.60px;top:406.50px;width:51.20px;height:13.60px">7.351%</div>
<div class="t rd" style="left:283.80px;top:406.50px;width:51.50px;height:13.60px">6.417%</div>
<div class="t rd" style="left:335.30px;top:406.50px;width:51.10px;height:13.60px">5.816%</div>
<div class="t rd" style="left:386.40px;top:406.50px;width:51.30px;height:13.60px">5.404%</div>
<div class="t rd" style="left:437.70px;top:406.50px;width:51.10px;height:13.60px">5.109%</div>
<div class="t rb" style="left:488.80px;top:406.50px;width:51.60px;height:13.60px">4.125%</div>
<div class="t rb" style="left:77.00px;top:420.10px;width:52.00px;height:13.60px">4.250%</div>
<div class="t rd" style="left:129.00px;top:420.10px;width:52.50px;height:13.60px">12.293%</div>
<div class="t rd" style="left:181.50px;top:420.10px;width:51.10px;height:13.60px">9.027%</div>
<div class="t rd" style="left:232.60px;top:420.10px;width:51.20px;height:13.60px">7.431%</div>
<div class="t rd" style="left:283.80px;top:420.10px;width:51.50px;height:13.60px">6.501%</div>
<div class="t rd" style="left:335.30px;top:420.10px;width:51.10px;height:13.60px">5.903%</div>
<div class="t rd" style="left:386.40px;top:420.10px;width:51.30px;height:13.60px">5.495%</div>
<div class="t rd" style="left:437.70px;top:420.10px;width:51.10px;height:13.60px">5.203%</div>
<div class="t rb" style="left:488.80px;top:420.10px;width:51.60px;height:13.60px">4.250%</div>
<div class="t rb" style="left:77.00px;top:433.70px;width:52.00px;height:13.60px">4.375%</div>
<div class="t rd" style="left:129.00px;top:433.70px;width:52.50px;height:13.60px">12.364%</div>
<div class="t rd" style="left:181.50px;top:433.70px;width:51.10px;height:13.60px">9.103%</div>
<div class="t rd" style="left:232.60px;top:433.70px;width:51.20px;height:13.60px">7.511%</div>
<div class="t rd" style="left:283.80px;top:433.70px;width:51.50px;height:13.60px">6.585%</div>
<div class="t rd" style="left:335.30px;top:433.70px;width:51.10px;height:13.60px">5.991%</div>
<div class="t rd" style="left:386.40px;top:433.70px;width:51.30px;height:13.60px">5.587%</div>
<div class="t rd" style="left:437.70px;top:433.70px;width:51.10px;height:13.60px">5.299%</div>
<div class="t rb" style="left:488.80px;top:433.70px;width:51.60px;height:13.60px">4.375%</div>
<div class="t rb" style="left:77.00px;top:447.30px;width:52.00px;height:13.60px">4.500%</div>
<div class="t rd" style="left:129.00px;top:447.30px;width:52.50px;height:13.60px">12.437%</div>
<div class="t rd" style="left:181.50px;top:447.30px;width:51.10px;height:13.60px">9.180%</div>
<div class="t rd" style="left:232.60px;top:447.30px;width:51.20px;height:13.60px">7.592%</div>
<div class="t rd" style="left:283.80px;top:447.30px;width:51.50px;height:13.60px">6.670%</div>
<div class="t rd" style="left:335.30px;top:447.30px;width:51.10px;height:13.60px">6.080%</div>
<div class="t rd" style="left:386.40px;top:447.30px;width:51.30px;height:13.60px">5.679%</div>
<div class="t rd" style="left:437.70px;top:447.30px;width:51.10px;height:13.60px">5.395%</div>
<div class="t rb" style="left:488.80px;top:447.30px;width:51.60px;height:13.60px">4.500%</div>
<div class="t rb" style="left:77.00px;top:460.90px;width:52.00px;height:13.60px">4.625%</div>
<div class="t rd" style="left:129.00px;top:460.90px;width:52.50px;height:13.60px">12.509%</div>
<div class="t rd" style="left:181.50px;top:460.90px;width:51.10px;height:13.60px">9.257%</div>
<div class="t rd" style="left:232.60px;top:460.90px;width:51.20px;height:13.60px">7.673%</div>
<div class="t rd" style="left:283.80px;top:460.90px;width:51.50px;height:13.60px">6.755%</div>
<div class="t rd" style="left:335.30px;top:460.90px;width:51.10px;height:13.60px">6.170%</div>
<div class="t rd" style="left:386.40px;top:460.90px;width:51.30px;height:13.60px">5.772%</div>
<div class="t rd" style="left:437.70px;top:460.90px;width:51.10px;height:13.60px">5.492%</div>
<div class="t rb" style="left:488.80px;top:460.90px;width:51.60px;height:13.60px">4.625%</div>
<div class="t rb" style="left:77.00px;top:474.50px;width:52.00px;height:13.60px">4.750%</div>
<div class="t rd" style="left:129.00px;top:474.50px;width:52.50px;height:13.60px">12.582%</div>
<div class="t rd" style="left:181.50px;top:474.50px;width:51.10px;height:13.60px">9.334%</div>
<div class="t rd" style="left:232.60px;top:474.50px;width:51.20px;height:13.60px">7.755%</div>
<div class="t rd" style="left:283.80px;top:474.50px;width:51.50px;height:13.60px">6.841%</div>
<div class="t rd" style="left:335.30px;top:474.50px;width:51.10px;height:13.60px">6.260%</div>
<div class="t rd" style="left:386.40px;top:474.50px;width:51.30px;height:13.60px">5.866%</div>
<div class="t rd" style="left:437.70px;top:474.50px;width:51.10px;height:13.60px">5.589%</div>
<div class="t rb" style="left:488.80px;top:474.50px;width:51.60px;height:13.60px">4.750%</div>
<div class="t rb" style="left:77.00px;top:488.10px;width:52.00px;height:13.60px">4.875%</div>
<div class="t rd" style="left:129.00px;top:488.10px;width:52.50px;height:13.60px">12.655%</div>
<div class="t rd" style="left:181.50px;top:488.10px;width:51.10px;height:13.60px">9.412%</div>
<div class="t rd" style="left:232.60px;top:488.10px;width:51.20px;height:13.60px">7.837%</div>
<div class="t rd" style="left:283.80px;top:488.10px;width:51.50px;height:13.60px">6.928%</div>
<div class="t rd" style="left:335.30px;top:488.10px;width:51.10px;height:13.60px">6.350%</div>
<div class="t rd" style="left:386.40px;top:488.10px;width:51.30px;height:13.60px">5.961%</div>
<div class="t rd" style="left:437.70px;top:488.10px;width:51.10px;height:13.60px">5.687%</div>
<div class="t rb" style="left:488.80px;top:488.10px;width:51.60px;height:13.60px">4.875%</div>
<div class="t rb" style="left:77.00px;top:511.70px;width:52.00px;height:13.60px">5.000%</div>
<div class="t rd" style="left:129.00px;top:511.70px;width:52.50px;height:13.60px">12.728%</div>
<div class="t rd" style="left:181.50px;top:511.70px;width:51.10px;height:13.60px">9.490%</div>
<div class="t rd" style="left:232.60px;top:511.70px;width:51.20px;height:13.60px">7.919%</div>
<div class="t rd" style="left:283.80px;top:511.70px;width:51.50px;height:13.60px">7.015%</div>
<div class="t rd" style="left:335.30px;top:511.70px;width:51.10px;height:13.60px">6.442%</div>
<div class="t rd" style="left:386.40px;top:511.70px;width:51.30px;height:13.60px">6.056%</div>
<div class="t rd" style="left:437.70px;top:511.70px;width:51.10px;height:13.60px">5.786%</div>
<div class="t rb" style="left:488.80px;top:511.70px;width:51.60px;height:13.60px">5.000%</div>
<div class="t rb" style="left:77.00px;top:525.30px;width:52.00px;height:13.60px">5.125%</div>
<div class="t rd" style="left:129.00px;top:525.30px;width:52.50px;height:13.60px">12.801%</div>
<div class="t rd" style="left:181.50px;top:525.30px;width:51.10px;height:13.60px">9.568%</div>
<div class="t rd" style="left:232.60px;top:525.30px;width:51.20px;height:13.60px">8.003%</div>
<div class="t rd" style="left:283.80px;top:525.30px;width:51.50px;height:13.60px">7.103%</div>
<div class="t rd" style="left:335.30px;top:525.30px;width:51.10px;height:13.60px">6.534%</div>
<div class="t rd" style="left:386.40px;top:525.30px;width:51.30px;height:13.60px">6.152%</div>
<div class="t rd" style="left:437.70px;top:525.30px;width:51.10px;height:13.60px">5.886%</div>
<div class="t rb" style="left:488.80px;top:525.30px;width:51.60px;height:13.60px">5.125%</div>
<div class="t rb" style="left:77.00px;top:538.90px;width:52.00px;height:13.60px">5.250%</div>
<div class="t rd" style="left:129.00px;top:538.90px;width:52.50px;height:13.60px">12.875%</div>
<div class="t rd" style="left:181.50px;top:538.90px;width:51.10px;height:13.60px">9.647%</div>
<div class="t rd" style="left:232.60px;top:538.90px;width:51.20px;height:13.60px">8.086%</div>
<div class="t rd" style="left:283.80px;top:538.90px;width:51.50px;height:13.60px">7.191%</div>
<div class="t rd" style="left:335.30px;top:538.90px;width:51.10px;height:13.60px">6.626%</div>
<div class="t rd" style="left:386.40px;top:538.90px;width:51.30px;height:13.60px">6.249%</div>
<div class="t rd" style="left:437.70px;top:538.90px;width:51.10px;height:13.60px">5.986%</div>
<div class="t rb" style="left:488.80px;top:538.90px;width:51.60px;height:13.60px">5.250%</div>
<div class="t rb" style="left:77.00px;top:552.50px;width:52.00px;height:13.60px">5.375%</div>
<div class="t rd" style="left:129.00px;top:552.50px;width:52.50px;height:13.60px">12.949%</div>
<div class="t rd" style="left:181.50px;top:552.50px;width:51.10px;height:13.60px">9.726%</div>
<div class="t rd" style="left:232.60px;top:552.50px;width:51.20px;height:13.60px">8.170%</div>
<div class="t rd" style="left:283.80px;top:552.50px;width:51.50px;height:13.60px">7.280%</div>
<div class="t rd" style="left:335.30px;top:552.50px;width:51.10px;height:13.60px">6.720%</div>
<div class="t rd" style="left:386.40px;top:552.50px;width:51.30px;height:13.60px">6.346%</div>
<div class="t rd" style="left:437.70px;top:552.50px;width:51.10px;height:13.60px">6.088%</div>
<div class="t rb" style="left:488.80px;top:552.50px;width:51.60px;height:13.60px">5.375%</div>
<div class="t rb" style="left:77.00px;top:566.10px;width:52.00px;height:13.60px">5.500%</div>
<div class="t rd" style="left:129.00px;top:566.10px;width:52.50px;height:13.60px">13.023%</div>
<div class="t rd" style="left:181.50px;top:566.10px;width:51.10px;height:13.60px">9.805%</div>
<div class="t rd" style="left:232.60px;top:566.10px;width:51.20px;height:13.60px">8.255%</div>
<div class="t rd" style="left:283.80px;top:566.10px;width:51.50px;height:13.60px">7.369%</div>
<div class="t rd" style="left:335.30px;top:566.10px;width:51.10px;height:13.60px">6.813%</div>
<div class="t rd" style="left:386.40px;top:566.10px;width:51.30px;height:13.60px">6.444%</div>
<div class="t rd" style="left:437.70px;top:566.10px;width:51.10px;height:13.60px">6.189%</div>
<div class="t rb" style="left:488.80px;top:566.10px;width:51.60px;height:13.60px">5.500%</div>
<div class="t rb" style="left:77.00px;top:579.70px;width:52.00px;height:13.60px">5.625%</div>
<div class="t rd" style="left:129.00px;top:579.70px;width:52.50px;height:13.60px">13.098%</div>
<div class="t rd" style="left:181.50px;top:579.70px;width:51.10px;height:13.60px">9.885%</div>
<div class="t rd" style="left:232.60px;top:579.70px;width:51.20px;height:13.60px">8.340%</div>
<div class="t rd" style="left:283.80px;top:579.70px;width:51.50px;height:13.60px">7.459%</div>
<div class="t rd" style="left:335.30px;top:579.70px;width:51.10px;height:13.60px">6.908%</div>
<div class="t rd" style="left:386.40px;top:579.70px;width:51.30px;height:13.60px">6.543%</div>
<div class="t rd" style="left:437.70px;top:579.70px;width:51.10px;height:13.60px">6.292%</div>
<div class="t rb" style="left:488.80px;top:579.70px;width:51.60px;height:13.60px">5.625%</div>
<div class="t rb" style="left:77.00px;top:593.30px;width:52.00px;height:13.60px">5.750%</div>
<div class="t rd" style="left:129.00px;top:593.30px;width:52.50px;height:13.60px">13.172%</div>
<div class="t rd" style="left:181.50px;top:593.30px;width:51.10px;height:13.60px">9.965%</div>
<div class="t rd" style="left:232.60px;top:593.30px;width:51.20px;height:13.60px">8.425%</div>
<div class="t rd" style="left:283.80px;top:593.30px;width:51.50px;height:13.60px">7.549%</div>
<div class="t rd" style="left:335.30px;top:593.30px;width:51.10px;height:13.60px">7.003%</div>
<div class="t rd" style="left:386.40px;top:593.30px;width:51.30px;height:13.60px">6.642%</div>
<div class="t rd" style="left:437.70px;top:593.30px;width:51.10px;height:13.60px">6.395%</div>
<div class="t rb" style="left:488.80px;top:593.30px;width:51.60px;height:13.60px">5.750%</div>
<div class="t rb" style="left:77.00px;top:606.90px;width:52.00px;height:13.60px">5.875%</div>
<div class="t rd" style="left:129.00px;top:606.90px;width:52.50px;height:13.60px">13.247%</div>
<div class="t rd" style="left:181.50px;top:606.90px;width:51.10px;height:13.60px">10.045%</div>
<div class="t rd" style="left:232.60px;top:606.90px;width:51.20px;height:13.60px">8.511%</div>
<div class="t rd" style="left:283.80px;top:606.90px;width:51.50px;height:13.60px">7.640%</div>
<div class="t rd" style="left:335.30px;top:606.90px;width:51.10px;height:13.60px">7.098%</div>
<div class="t rd" style="left:386.40px;top:606.90px;width:51.30px;height:13.60px">6.742%</div>
<div class="t rd" style="left:437.70px;top:606.90px;width:51.10px;height:13.60px">6.498%</div>
<div class="t rb" style="left:488.80px;top:606.90px;width:51.60px;height:13.60px">5.875%</div>
<div class="t rb" style="left:77.00px;top:630.50px;width:52.00px;height:13.60px">6.000%</div>
<div class="t rd" style="left:129.00px;top:630.50px;width:52.50px;height:13.60px">13.322%</div>
<div class="t rd" style="left:181.50px;top:630.50px;width:51.10px;height:13.60px">10.126%</div>
<div class="t rd" style="left:232.60px;top:630.50px;width:51.20px;height:13.60px">8.597%</div>
<div class="t rd" style="left:283.80px;top:630.50px;width:51.50px;height:13.60px">7.732%</div>
<div class="t rd" style="left:335.30px;top:630.50px;width:51.10px;height:13.60px">7.195%</div>
<div class="t rd" style="left:386.40px;top:630.50px;width:51.30px;height:13.60px">6.842%</div>
<div class="t rd" style="left:437.70px;top:630.50px;width:51.10px;height:13.60px">6.603%</div>
<div class="t rb" style="left:488.80px;top:630.50px;width:51.60px;height:13.60px">6.000%</div>
<div class="t rb" style="left:77.00px;top:644.10px;width:52.00px;height:13.60px">6.125%</div>
<div class="t rd" style="left:129.00px;top:644.10px;width:52.50px;height:13.60px">13.398%</div>
<div class="t rd" style="left:181.50px;top:644.10px;width:51.10px;height:13.60px">10.207%</div>
<div class="t rd" style="left:232.60px;top:644.10px;width:51.20px;height:13.60px">8.684%</div>
<div class="t rd" style="left:283.80px;top:644.10px;width:51.50px;height:13.60px">7.824%</div>
<div class="t rd" style="left:335.30px;top:644.10px;width:51.10px;height:13.60px">7.291%</div>
<div class="t rd" style="left:386.40px;top:644.10px;width:51.30px;height:13.60px">6.943%</div>
<div class="t rd" style="left:437.70px;top:644.10px;width:51.10px;height:13.60px">6.707%</div>
<div class="t rb" style="left:488.80px;top:644.10px;width:51.60px;height:13.60px">6.125%</div>
<div class="t rb" style="left:77.00px;top:657.70px;width:52.00px;height:13.60px">6.250%</div>
<div class="t rd" style="left:129.00px;top:657.70px;width:52.50px;height:13.60px">13.474%</div>
<div class="t rd" style="left:181.50px;top:657.70px;width:51.10px;height:13.60px">10.289%</div>
<div class="t rd" style="left:232.60px;top:657.70px;width:51.20px;height:13.60px">8.771%</div>
<div class="t rd" style="left:283.80px;top:657.70px;width:51.50px;height:13.60px">7.916%</div>
<div class="t rd" style="left:335.30px;top:657.70px;width:51.10px;height:13.60px">7.389%</div>
<div class="t rd" style="left:386.40px;top:657.70px;width:51.30px;height:13.60px">7.045%</div>
<div class="t rd" style="left:437.70px;top:657.70px;width:51.10px;height:13.60px">6.813%</div>
<div class="t rb" style="left:488.80px;top:657.70px;width:51.60px;height:13.60px">6.250%</div>
<div class="t rb" style="left:77.00px;top:671.30px;width:52.00px;height:13.60px">6.375%</div>
<div class="t rd" style="left:129.00px;top:671.30px;width:52.50px;height:13.60px">13.550%</div>
<div class="t rd" style="left:181.50px;top:671.30px;width:51.10px;height:13.60px">10.371%</div>
<div class="t rd" style="left:232.60px;top:671.30px;width:51.20px;height:13.60px">8.859%</div>
<div class="t rd" style="left:283.80px;top:671.30px;width:51.50px;height:13.60px">8.009%</div>
<div class="t rd" style="left:335.30px;top:671.30px;width:51.10px;height:13.60px">7.486%</div>
<div class="t rd" style="left:386.40px;top:671.30px;width:51.30px;height:13.60px">7.147%</div>
<div class="t rd" style="left:437.70px;top:671.30px;width:51.10px;height:13.60px">6.919%</div>
<div class="t rb" style="left:488.80px;top:671.30px;width:51.60px;height:13.60px">6.375%</div>
<div class="t rb" style="left:77.00px;top:684.90px;width:52.00px;height:13.60px">6.500%</div>
<div class="t rd" style="left:129.00px;top:684.90px;width:52.50px;height:13.60px">13.626%</div>
<div class="t rd" style="left:181.50px;top:684.90px;width:51.10px;height:13.60px">10.453%</div>
<div class="t rd" style="left:232.60px;top:684.90px;width:51.20px;height:13.60px">8.947%</div>
<div class="t rd" style="left:283.80px;top:684.90px;width:51.50px;height:13.60px">8.102%</div>
<div class="t rd" style="left:335.30px;top:684.90px;width:51.10px;height:13.60px">7.585%</div>
<div class="t rd" style="left:386.40px;top:684.90px;width:51.30px;height:13.60px">7.250%</div>
<div class="t rd" style="left:437.70px;top:684.90px;width:51.10px;height:13.60px">7.025%</div>
<div class="t rb" style="left:488.80px;top:684.90px;width:51.60px;height:13.60px">6.500%</div>
</div>
<div class="frame"></div>
</body></html>
